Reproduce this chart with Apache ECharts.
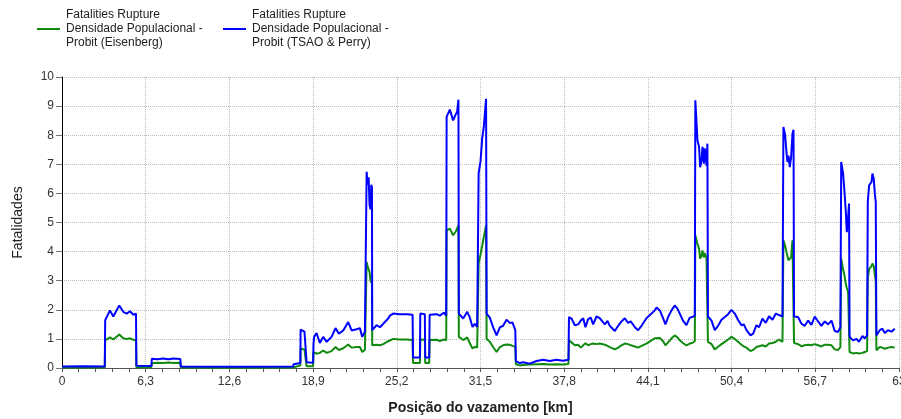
<!DOCTYPE html>
<html>
<head>
<meta charset="utf-8">
<script src="https://cdn.jsdelivr.net/npm/echarts@6/dist/echarts.min.js"></script>
<style>
html,body{margin:0;padding:0;background:#fff;}
#chart{width:901px;height:419px;}
</style>
</head>
<body>
<div id="chart"></div>
<script>
// Leak position (km)
var positions = [
0,1.5,3.22,3.25,3.61,3.86,4.31,4.61,4.87,5.12,5.37,5.57,5.60,6.73,6.76,7.2,7.6,8.0,8.4,8.91,8.94,13.0,17.4,17.43,17.94,17.96,18.1,18.25,18.38,18.41,18.9,18.93,18.98,19.16,19.41,19.66,19.92,20.29,20.59,20.84,21.17,21.54,21.8,22.17,22.42,22.6,22.8,22.91,
22.93,23.0,23.08,23.15,23.22,23.28,23.33,23.35,23.68,23.93,24.18,24.55,24.68,24.93,25.43,25.94,26.39,26.42,26.94,26.97,27.31,27.34,27.64,27.67,28.19,28.44,28.74,28.92,
28.95,29.19,29.44,29.65,29.74,29.84,29.87,30.2,30.5,30.7,30.9,31.08,31.25,31.33,31.36,31.5,31.63,31.75,31.92,31.96,32.2,32.45,32.71,32.96,33.2,33.46,33.71,33.91,34.12,34.16,34.46,34.71,35.21,35.72,36.22,36.72,37.22,37.7,38.12,
38.16,38.35,38.6,38.85,39.05,39.23,39.4,39.6,39.8,39.98,40.23,40.48,40.61,40.86,41.06,41.23,41.61,41.86,42.11,42.36,42.61,42.81,43.12,43.36,43.62,43.99,44.37,44.62,44.75,45.0,45.24,45.42,45.62,45.88,46.12,46.33,46.5,46.75,47.0,47.25,47.43,47.63,
47.67,47.76,47.83,47.95,48.03,48.13,48.21,48.31,48.38,48.51,48.58,48.62,48.89,49.13,49.38,49.64,49.89,50.14,50.39,50.64,50.89,51.14,51.32,51.52,51.82,52.02,52.27,52.47,52.72,52.97,53.22,53.48,53.73,53.97,54.23,
54.3,54.43,54.53,54.6,54.68,54.78,54.88,54.98,55.06,55.1,55.4,55.66,55.91,56.16,56.41,56.66,56.91,57.16,57.41,57.66,57.92,58.16,58.41,58.59,
58.65,58.79,58.89,58.99,59.07,59.17,59.24,59.28,59.54,59.8,59.99,60.25,60.42,60.6,60.65,60.75,60.93,61.0,61.1,61.18,61.25,61.3,61.55,61.75,61.93,62.17,62.43,62.68
];
// Probit (TSAO & Perry)
var tsaoPerry = [
0.05,0.06,0.05,1.64,1.98,1.77,2.15,1.93,1.87,1.95,1.83,1.87,0.08,0.07,0.32,0.30,0.33,0.30,0.33,0.31,0.05,0.04,0.05,0.13,0.17,1.32,1.30,1.25,1.27,0.20,0.18,0.84,1.07,1.20,0.86,1.07,0.90,1.07,1.37,1.18,1.29,1.58,1.29,1.33,1.37,1.07,1.25,1.20,
6.74,6.30,6.55,5.60,5.45,6.30,6.20,1.30,1.47,1.40,1.52,1.70,1.80,1.87,1.85,1.85,1.83,0.36,0.36,1.87,1.85,0.36,0.36,1.83,1.85,1.80,1.90,1.80,
8.63,8.88,8.51,8.73,8.80,9.22,1.87,1.70,1.93,1.73,1.41,1.52,1.41,1.45,6.70,7.10,7.90,8.30,9.25,1.87,1.73,1.40,1.12,1.40,1.45,1.66,1.55,1.56,1.30,0.24,0.17,0.20,0.15,0.24,0.28,0.24,0.28,0.25,0.28,
1.75,1.70,1.47,1.50,1.63,1.71,1.40,1.68,1.73,1.50,1.77,1.71,1.77,1.50,1.62,1.45,1.27,1.45,1.60,1.71,1.55,1.60,1.40,1.30,1.45,1.71,1.87,1.98,2.08,1.98,1.71,1.50,1.75,1.98,2.15,2.03,1.87,1.62,1.47,1.73,1.75,1.80,
9.20,8.45,7.82,7.60,6.90,7.10,7.60,7.02,7.55,6.95,7.71,1.77,1.63,1.30,1.45,1.66,1.75,1.85,2.00,1.87,1.65,1.47,1.50,1.30,1.12,1.18,1.47,1.40,1.70,1.55,1.78,1.66,1.87,1.82,1.77,
8.28,8.00,7.42,7.08,7.30,6.90,7.25,8.05,8.19,1.77,1.75,1.52,1.45,1.63,1.48,1.77,1.60,1.45,1.60,1.50,1.63,1.27,1.24,1.40,
7.08,6.68,6.10,5.42,4.67,5.20,5.65,1.07,0.95,1.00,0.90,1.10,1.02,1.12,5.70,6.28,6.39,6.68,6.50,6.00,5.70,1.12,1.30,1.35,1.20,1.30,1.25,1.35
];
// Probit (Eisenberg)
var eisenberg = [
0.02,0.02,0.02,0.95,1.05,0.98,1.15,1.02,1.00,1.02,0.97,0.95,0.03,0.03,0.16,0.18,0.17,0.19,0.17,0.18,0.02,0.01,0.02,0.06,0.09,0.67,0.66,0.63,0.62,0.06,0.06,0.55,0.61,0.49,0.52,0.60,0.52,0.58,0.72,0.62,0.68,0.81,0.70,0.72,0.72,0.55,0.63,0.63,
3.64,3.50,3.45,3.30,3.00,2.95,2.90,0.78,0.80,0.78,0.82,0.92,0.95,1.00,0.98,0.98,0.96,0.17,0.17,0.98,0.97,0.17,0.17,0.96,0.97,0.93,0.98,0.95,
4.73,4.79,4.56,4.70,4.75,4.90,1.07,0.96,1.05,0.85,0.67,0.73,0.70,0.72,3.60,3.90,4.20,4.50,4.90,1.00,0.90,0.72,0.55,0.72,0.78,0.81,0.80,0.76,0.73,0.13,0.09,0.10,0.12,0.13,0.14,0.12,0.13,0.12,0.14,
0.95,0.88,0.78,0.80,0.70,0.78,0.85,0.78,0.82,0.84,0.82,0.84,0.85,0.80,0.76,0.72,0.64,0.70,0.78,0.84,0.82,0.78,0.74,0.70,0.76,0.84,0.95,1.02,1.07,1.03,0.92,0.78,0.88,1.02,1.12,1.05,0.95,0.85,0.78,0.84,0.86,0.92,
4.56,4.40,4.27,4.10,3.76,3.85,4.04,3.80,3.95,3.78,3.82,0.90,0.82,0.64,0.73,0.82,0.90,0.98,1.07,1.00,0.90,0.80,0.74,0.70,0.58,0.62,0.72,0.75,0.78,0.74,0.84,0.86,0.90,0.98,0.90,
4.39,4.20,3.99,3.85,3.70,3.75,3.80,4.39,4.40,0.86,0.82,0.75,0.78,0.80,0.78,0.82,0.78,0.74,0.80,0.80,0.78,0.64,0.62,0.72,
3.76,3.40,3.20,2.90,2.75,2.61,2.65,0.55,0.50,0.52,0.50,0.52,0.55,0.58,3.07,3.40,3.50,3.59,3.50,3.20,3.00,0.61,0.72,0.70,0.66,0.70,0.72,0.70
];
var xTicks = [0, 6.3, 12.6, 18.9, 25.2, 31.5, 37.8, 44.1, 50.4, 56.7, 63];
var nameEis = 'Fatalities Rupture\nDensidade Populacional -\nProbit (Eisenberg)';
var nameTsao = 'Fatalities Rupture\nDensidade Populacional -\nProbit (TSAO & Perry)';

function pairs(xs, ys){ return xs.map(function(x,i){ return [x, ys[i]]; }); }

var FONT = 'Liberation Sans';
var chart = echarts.init(document.getElementById('chart'), null, {renderer:'canvas'});
chart.setOption({
  animation: false,
  backgroundColor: '#fff',
  textStyle: {fontFamily: FONT},
  legend: [
    {left: 37, top: 8, padding: 0, itemWidth: 23, itemHeight: 2, icon: 'rect', itemGap: 6,
     textStyle: {fontFamily: FONT, fontSize: 12, color: '#222', lineHeight: 14, padding: [0,0,0,1]},
     data: [{name: nameEis, itemStyle: {color: '#0f8a0f'}}]},
    {left: 223, top: 8, padding: 0, itemWidth: 23, itemHeight: 2, icon: 'rect', itemGap: 6,
     textStyle: {fontFamily: FONT, fontSize: 12, color: '#222', lineHeight: 14, padding: [0,0,0,1]},
     data: [{name: nameTsao, itemStyle: {color: '#0000ff'}}]}
  ],
  grid: {left: 62, right: 2, top: 77, bottom: 51, containLabel: false, outerBoundsMode: 'none'},
  xAxis: {
    type: 'value', min: 0, max: 63, interval: 6.3,
    name: 'Posição do vazamento [km]', nameLocation: 'middle', nameGap: 33,
    nameTextStyle: {fontFamily: FONT, fontSize: 14, fontWeight: 'bold', color: '#222'},
    axisLine: {show: true, lineStyle: {color: '#555', width: 1}},
    axisTick: {show: true, length: 4, lineStyle: {color: '#555'}},
    minorTick: {show: true, splitNumber: 5, length: 4, lineStyle: {color: '#555'}},
    axisLabel: {fontFamily: FONT, fontSize: 12, color: '#333', margin: 8,
      formatter: function(v){ return (Math.round(v*10)/10).toString().replace('.', ','); }},
    splitLine: {show: true, lineStyle: {color: '#bdbdbd', type: 'dotted', width: 1}}
  },
  yAxis: {
    type: 'value', min: 0, max: 10, interval: 1,
    name: 'Fatalidades', nameLocation: 'middle', nameGap: 37,
    nameTextStyle: {fontFamily: FONT, fontSize: 14, color: '#222'},
    axisLine: {show: true, lineStyle: {color: '#000', width: 1}},
    axisTick: {show: true, length: 6, lineStyle: {color: '#777'}},
    axisLabel: {fontFamily: FONT, fontSize: 12, color: '#333', margin: 8},
    splitLine: {show: true, lineStyle: {color: '#bdbdbd', type: 'dotted', width: 1}}
  },
  series: [
    {name: nameEis, type: 'line', data: pairs(positions, eisenberg), showSymbol: false, symbol: 'none',
     lineStyle: {color: '#0f8a0f', width: 2}, itemStyle: {color: '#0f8a0f'}},
    {name: nameTsao, type: 'line', data: pairs(positions, tsaoPerry), showSymbol: false, symbol: 'none',
     lineStyle: {color: '#0000ff', width: 2}, itemStyle: {color: '#0000ff'}}
  ]
});
</script>
</body>
</html>
